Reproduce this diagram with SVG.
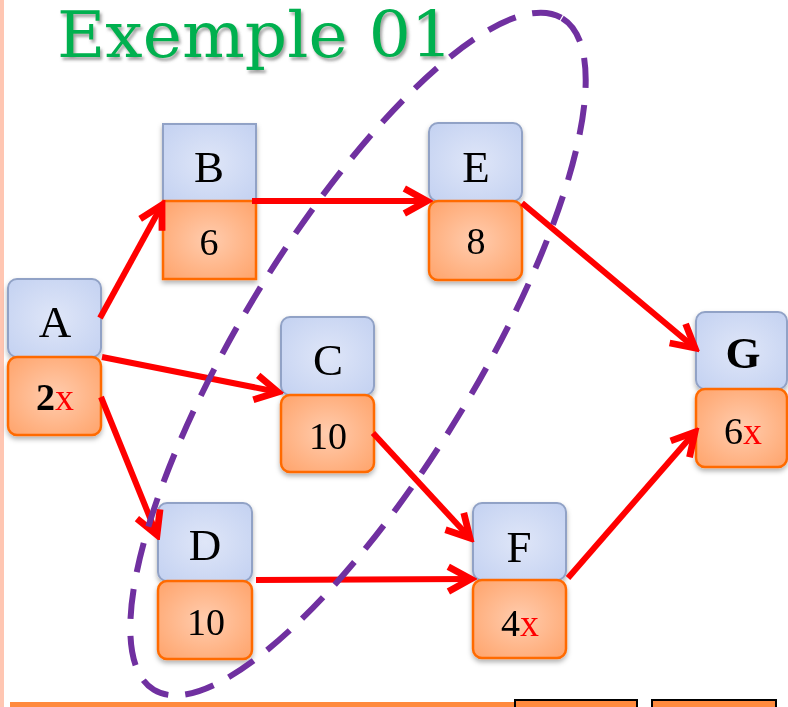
<svg xmlns="http://www.w3.org/2000/svg" width="788" height="707" viewBox="0 0 788 707">
  <style>
    .blue { fill: url(#gBlue); stroke: #91A2C6; stroke-width: 2; }
    .org { fill: url(#gOrg); stroke: #FF6A00; stroke-width: 2.5; }
    .lbl { font-family: "Liberation Serif", "DejaVu Serif", serif; font-size: 45px; fill: #000; text-anchor: middle; }
    .num { font-family: "Liberation Serif", "DejaVu Serif", serif; font-size: 38px; fill: #000; text-anchor: middle; }
    .red { fill: #FF0000; }
    .arr { stroke: #FF0000; stroke-width: 6; fill: none; marker-end: url(#ah); }
  </style>
  <defs>
    <radialGradient id="gBlue" cx="50%" cy="50%" r="70%">
      <stop offset="0" stop-color="#DFE6F8"/>
      <stop offset="1" stop-color="#C3D1F1"/>
    </radialGradient>
    <radialGradient id="gOrg" cx="50%" cy="50%" r="70%">
      <stop offset="0" stop-color="#FFCCAE"/>
      <stop offset="1" stop-color="#FFA36A"/>
    </radialGradient>
    <filter id="sh" x="-20%" y="-20%" width="140%" height="150%">
      <feDropShadow dx="0" dy="3" stdDeviation="2.5" flood-color="#000" flood-opacity="0.3"/>
    </filter>
    <filter id="tsh" x="-5%" y="-20%" width="110%" height="150%">
      <feDropShadow dx="2" dy="3" stdDeviation="1.5" flood-color="#555" flood-opacity="0.55"/>
    </filter>
    <marker id="ah" markerUnits="userSpaceOnUse" markerWidth="34" markerHeight="34" viewBox="0 0 30 28" refX="25" refY="14" orient="auto">
      <path d="M5,3 L25,14 L5,25" fill="none" stroke="#FF0000" stroke-width="6"/>
    </marker>
  </defs>

  <rect x="0" y="0" width="788" height="707" fill="#FFFFFF"/>
  <rect x="0" y="0" width="4" height="707" fill="#FFC6B2"/>

  <text x="57" y="57" font-family="DejaVu Serif, Liberation Serif, serif" font-size="63" fill="#00B050" textLength="396" lengthAdjust="spacingAndGlyphs" filter="url(#tsh)">Exemple 01</text>

  <g id="nodeA" filter="url(#sh)">
    <rect class="blue" x="8" y="279" width="93" height="78" rx="9"/>
    <rect class="org" x="8" y="357" width="93" height="78" rx="9"/>
    <text class="lbl" x="55" y="337">A</text>
    <text class="num" x="55" y="410"><tspan font-weight="bold">2</tspan><tspan class="red">x</tspan></text>
  </g>
  <g id="nodeB" filter="url(#sh)">
    <rect class="blue" x="163" y="124" width="93" height="77"/>
    <rect class="org" x="163" y="201" width="93" height="78"/>
    <text class="lbl" x="209" y="182">B</text>
    <text class="num" x="209" y="255">6</text>
  </g>
  <g id="nodeE" filter="url(#sh)">
    <rect class="blue" x="429" y="123" width="93" height="78" rx="9"/>
    <rect class="org" x="429" y="201" width="93" height="79" rx="9"/>
    <text class="lbl" x="476" y="182">E</text>
    <text class="num" x="476" y="254">8</text>
  </g>
  <g id="nodeC" filter="url(#sh)">
    <rect class="blue" x="281" y="317" width="93" height="78" rx="9"/>
    <rect class="org" x="281" y="395" width="93" height="77" rx="9"/>
    <text class="lbl" x="328" y="375">C</text>
    <text class="num" x="328" y="449">10</text>
  </g>
  <g id="nodeD" filter="url(#sh)">
    <rect class="blue" x="158" y="503" width="94" height="78" rx="9"/>
    <rect class="org" x="158" y="581" width="94" height="78" rx="9"/>
    <text class="lbl" x="205" y="560">D</text>
    <text class="num" x="206" y="635">10</text>
  </g>
  <g id="nodeF" filter="url(#sh)">
    <rect class="blue" x="473" y="503" width="93" height="77" rx="9"/>
    <rect class="org" x="473" y="580" width="93" height="78" rx="9"/>
    <text class="lbl" x="519" y="562">F</text>
    <text class="num" x="520" y="636">4<tspan class="red">x</tspan></text>
  </g>
  <g id="nodeG" filter="url(#sh)">
    <rect class="blue" x="696" y="312" width="91" height="77" rx="9"/>
    <rect class="org" x="696" y="389" width="91" height="78" rx="9"/>
    <text class="lbl" x="743" y="368" font-weight="bold">G</text>
    <text class="num" x="743" y="444">6<tspan class="red">x</tspan></text>
  </g>

  <g id="connectors">
    <line class="arr" x1="100" y1="318" x2="162" y2="205"/>
    <line class="arr" x1="102" y1="357" x2="278" y2="392"/>
    <line class="arr" x1="101" y1="397" x2="157" y2="535"/>
    <line class="arr" x1="252" y1="201" x2="427" y2="201"/>
    <line class="arr" x1="522" y1="203" x2="695" y2="348"/>
    <line class="arr" x1="373" y1="433" x2="470" y2="538"/>
    <line class="arr" x1="256" y1="580" x2="471" y2="579"/>
    <line class="arr" x1="568" y1="578" x2="695" y2="432"/>
  </g>

  <ellipse id="group" cx="358" cy="354" rx="393" ry="118" transform="rotate(-58.7 358 354)" fill="none" stroke="#7030A0" stroke-width="6" stroke-dasharray="30 17"/>

  <rect x="10" y="702" width="505" height="6" fill="#FF8A3D"/>
  <rect x="515" y="700" width="122" height="9" fill="#FF8A3D" stroke="#000" stroke-width="2"/>
  <rect x="652" y="700" width="124" height="9" fill="#FF8A3D" stroke="#000" stroke-width="2"/>
</svg>
